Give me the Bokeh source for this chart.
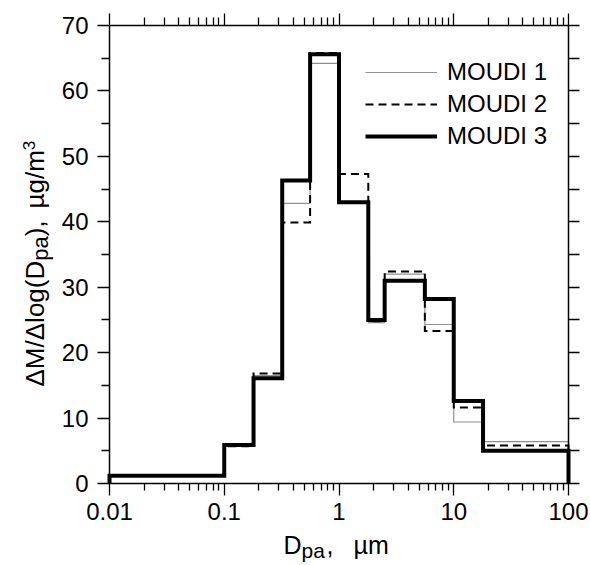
import math
from bokeh.plotting import figure
from bokeh.models import (Range1d, LinearAxis, LogAxis, FixedTicker,
                          CustomJSTickFormatter, Label)
from bokeh.embed import file_html
from bokeh.resources import INLINE

# ---------------- data ----------------
edges = [0.01, 0.1, 0.18, 0.32, 0.56, 1.0, 1.8, 2.5, 5.6, 10, 18, 100]
moudi1 = [1.2, 6.0, 16.5, 42.8, 64.2, 43.0, 24.6, 32.0, 24.3, 9.4, 6.4]
moudi2 = [1.2, 5.7, 16.8, 39.9, 65.8, 47.3, 24.8, 32.4, 23.3, 11.6, 5.8]
moudi3 = [1.2, 5.9, 16.1, 46.3, 65.6, 43.0, 25.0, 31.0, 28.2, 12.6, 5.0]
series_names = ["MOUDI 1", "MOUDI 2", "MOUDI 3"]
x_major = [0.01, 0.1, 1, 10, 100]
x_minor = [k * 10.0 ** d for d in range(-2, 2) for k in range(2, 10)]
y_major = [0, 10, 20, 30, 40, 50, 60, 70]
y_minor = [5, 15, 25, 35, 45, 55, 65]
y_right = [0, 5, 10, 15, 20, 25, 30, 35, 40, 45, 50, 55, 60, 65, 70]
x_lim = (0.01, 100)
y_lim = (0, 70)


def step_path(e, vals):
    xs, ys = [e[0]], [0]
    for i, v in enumerate(vals):
        xs += [e[i], e[i + 1]]
        ys += [v, v]
    xs.append(e[-1])
    ys.append(0)
    return xs, ys


FONT = "Liberation Sans"

# ---- geometry: plotting box in page pixels; canvas is the whole frame ----
W, H = 588, 565
FL, FR, FT, FB = 109.0, 568.0, 25.0, 483.0
LX0, LX1 = math.log10(x_lim[0]), math.log10(x_lim[1])
DEC = (FR - FL) / (LX1 - LX0)
YPX = (FB - FT) / (y_lim[1] - y_lim[0])


def dx(px):
    return 10 ** (LX0 + (px - FL) / DEC)


def dy(py):
    return y_lim[0] + (FB - py) / YPX


p = figure(width=W, height=H, x_axis_type="log",
           x_range=Range1d(dx(0), dx(W)), y_range=Range1d(dy(H), dy(0)),
           output_backend="svg", toolbar_location=None, title=None,
           min_border_left=0, min_border_right=0,
           min_border_top=0, min_border_bottom=0)
p.background_fill_color = "white"
p.border_fill_color = "white"
p.outline_line_color = None
p.xgrid.visible = False
p.ygrid.visible = False

styles = [dict(line_color="#909090", line_width=1.2),
          dict(line_color="black", line_width=2, line_dash="8 5"),
          dict(line_color="black", line_width=4)]
for vals, name, st in zip([moudi1, moudi2, moudi3], series_names, styles):
    xs, ys = step_path(edges, vals)
    p.line(xs, ys, legend_label=name, line_join="miter", **st)

xa = p.xaxis[0]
xa.ticker = FixedTicker(ticks=x_major, minor_ticks=x_minor)
xa.formatter = CustomJSTickFormatter(code="return tick.toString()")
xa.fixed_location = y_lim[0]
xa.bounds = x_lim
ya = p.yaxis[0]
ya.ticker = FixedTicker(ticks=y_major, minor_ticks=y_minor)
ya.fixed_location = x_lim[0]
ya.bounds = y_lim

top = LogAxis(ticker=FixedTicker(ticks=x_major, minor_ticks=x_minor),
              formatter=CustomJSTickFormatter(code="return ''"),
              fixed_location=y_lim[1], bounds=x_lim)
right = LinearAxis(ticker=FixedTicker(ticks=y_right, minor_ticks=[]),
                   formatter=CustomJSTickFormatter(code="return ''"),
                   fixed_location=x_lim[1], bounds=y_lim)
p.add_layout(top, "above")
p.add_layout(right, "right")

for ax in (xa, ya, top, right):
    ax.axis_line_width = 1.5
    ax.axis_line_color = "black"
    ax.major_tick_line_width = 1.3
    ax.minor_tick_line_width = 1.3
    ax.major_tick_line_color = "black"
    ax.minor_tick_line_color = "black"
    ax.major_tick_in = 0
    ax.minor_tick_in = 0
    ax.major_tick_out = 12
    ax.minor_tick_out = 8
    ax.major_label_text_font = FONT
    ax.major_label_text_font_size = "24px"
    ax.major_label_text_color = "black"
xa.minor_tick_out = 7
xa.major_label_standoff = 7
ya.major_label_standoff = 9
for ax in (top, right):
    ax.major_label_standoff = 0
    ax.major_label_text_font_size = "1px"
    ax.major_label_text_alpha = 0
right.major_tick_out = 11
right.minor_tick_out = 0

# legend
lg = p.legend[0]
lg.location = (365, H - 150)
lg.padding = 0
lg.margin = 0
lg.spacing = 4
lg.label_height = 28
lg.glyph_height = 28
lg.glyph_width = 72
lg.label_standoff = 10
lg.border_line_color = None
lg.background_fill_alpha = 0
lg.label_text_font = FONT
lg.label_text_font_size = "24px"
lg.label_text_color = "black"


def lab(text, px, py, size, angle=0.0):
    # Label anchors ~half an em above the baseline; compensate so that
    # (px, py) is the wanted baseline start.
    off = 0.5 * size
    px2 = px - off * math.sin(angle)
    py2 = py - off * math.cos(angle)
    p.add_layout(Label(x=dx(px2), y=dy(py2), text=text, text_font=FONT,
                       text_font_size=f"{size}px", text_color="black",
                       text_align="left", text_baseline="alphabetic",
                       angle=angle))


# x title: D_pa, µm
lab("D", 283, 557, 25)
lab("pa", 301, 560, 21)
lab(",", 326, 557, 25)
lab("µm", 353, 557, 25)

# y title: ΔM/Δlog(D_pa), µg/m^3  (rotated, reads bottom to top)
F, FS, FP = 26, 22, 17
w1 = 4.834 * F
w2 = 1.112 * FS
w3 = 0.611 * F
gap = 12
w4 = 2.243 * F
bx = 47
y0 = 386
A = math.pi / 2
lab("ΔM/Δlog(D", bx, y0, F, A)
lab("pa", bx + 4, y0 - w1, FS, A)
lab("),", bx, y0 - w1 - w2, F, A)
lab("µg/m", bx, y0 - w1 - w2 - w3 - gap, F, A)
lab("3", bx - 10, y0 - w1 - w2 - w3 - gap - w4, FP, A)

open("out.html", "w").write(file_html(p, INLINE))
